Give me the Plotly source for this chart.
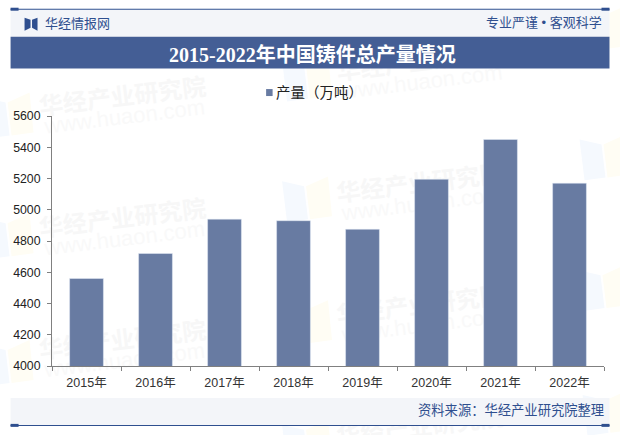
import plotly.graph_objects as go

years = ["2015年", "2016年", "2017年", "2018年", "2019年", "2020年", "2021年", "2022年"]
output = [4560, 4720, 4940, 4930, 4875, 5195, 5450, 5170]
y_ticks = [4000, 4200, 4400, 4600, 4800, 5000, 5200, 5400, 5600]

W, H = 620, 435
LEFT, RIGHT, TOP, BOTTOM = 51.5, 604.5, 115.5, 366
NAVY = "#2F4F8F"
BAND = "#445E95"
PALE = "#F3F5F9"
BAR = "#687BA2"
SANS = "Liberation Sans, Noto Sans CJK SC"

# Centres of the faint brand lettering, and top-left corners of the faint book marks
stamp_centres = [(122, 94), (122, 216), (122, 338), (420, 181), (420, 303), (420, 59)]
bottom_stamp = (420, 425)
book_corners = [(-17, 97), (-17, 218), (-17, 345), (282, 181), (282, 305), (282, 60),
                (282, 425), (580, 139), (579, 270), (580, 10), (583, 395)]


def px(x):
    return (x - LEFT) / (RIGHT - LEFT)


def py(y):
    return (BOTTOM - y) / (BOTTOM - TOP)


def rect(x0, y0, x1, y1, color):
    return dict(type="rect", xref="paper", yref="paper", x0=px(x0), x1=px(x1),
                y0=py(y0), y1=py(y1), fillcolor=color, line_width=0, layer="below")


def poly(points, color):
    d = "M " + " L ".join(f"{px(x):.5f} {py(y):.5f}" for x, y in points) + " Z"
    return dict(type="path", xref="paper", yref="paper", path=d, fillcolor=color,
                line_width=0, layer="below")


def stamp(cx, cy, text, size, color):
    box = rect(cx - 100, cy - 20, cx + 100, cy + 20, "rgba(0,0,0,0)")
    box["label"] = dict(text=text, textangle=-7, textposition="middle center",
                        font=dict(size=size, color=color, family=SANS))
    return box


shapes = []
for bx, by in book_corners:
    shapes.append(poly([(bx, by), (bx + 22, by + 5), (bx + 26, by + 38), (bx + 5, by + 41)], "#F5F9FE"))
    shapes.append(poly([(bx + 24, by + 5), (bx + 46, by - 5), (bx + 50, by + 35), (bx + 28, by + 38)], "#FFFDF4"))

for cx, cy in stamp_centres:
    shapes.append(stamp(cx, cy, "<b>华经产业研究院</b>", 24, "#F7F7F7"))
    shapes.append(stamp(cx + 2, cy + 20, "www.huaon.com", 22, "#F9F9F9"))
shapes.append(stamp(*bottom_stamp, "<b>华经产业研究院</b>", 24, "#F7F7F7"))

shapes += [
    rect(10, 9, 610, 36, PALE),
    rect(10, 36, 610, 68, BAND),
    rect(10, 398, 610, 425, PALE),
    rect(10, 8, 610, 9, NAVY),
    rect(10, 425, 610, 426, NAVY),
    rect(10, 7, 18, 10, NAVY),
    rect(602, 7, 610, 10, NAVY),
    rect(10, 424, 18, 427, NAVY),
    rect(602, 424, 610, 427, NAVY),
    # book-shaped logo
    poly([(24, 17), (30, 19), (30, 27), (24, 30)], NAVY),
    poly([(37, 17), (31.5, 19), (31.5, 27), (37, 30)], NAVY),
    # legend swatch
    rect(266, 88.5, 272.5, 95.5, BAR),
]


def note(x, y, text, size, color, anchor="left", family=SANS):
    return dict(xref="paper", yref="paper", x=px(x), y=py(y), text=text, showarrow=False,
                xanchor=anchor, yanchor="middle", borderpad=0, borderwidth=0,
                font=dict(size=size, color=color, family=family))


annotations = [
    note(44, 23, "华经情报网", 13, NAVY),
    note(602, 22, "专业严谨 • 客观科学", 13, NAVY, "right"),
    note(312, 54, "<b>2015-2022年中国铸件总产量情况</b>", 20, "#FFFFFF", "center",
         family="Liberation Serif, Noto Sans CJK SC"),
    note(276, 92, "产量（万吨）", 14.5, "#222222"),
    note(604, 411, "资料来源：华经产业研究院整理", 13.3, NAVY, "right"),
]

fig = go.Figure(go.Bar(x=years, y=output, marker_color=BAR, width=0.49, showlegend=False))

fig.update_layout(
    width=W, height=H, autosize=False,
    margin=dict(l=LEFT, r=W - RIGHT, t=TOP, b=H - BOTTOM, pad=0),
    paper_bgcolor="#FFFFFF",
    plot_bgcolor="rgba(0,0,0,0)",
    shapes=shapes,
    annotations=annotations,
    showlegend=False,
    xaxis=dict(type="category", range=[-0.5, 7.5],
               showgrid=False, showline=True, linecolor="#808080", linewidth=1,
               ticks="outside", ticklen=4, tickcolor="#808080", tickson="boundaries",
               ticklabelstandoff=5,
               tickfont=dict(size=12.5, color="#333333", family=SANS)),
    yaxis=dict(range=[4000, 5600], tickvals=y_ticks,
               showgrid=False, zeroline=False, showline=True, linecolor="#808080", linewidth=1,
               ticks="outside", ticklen=4, tickcolor="#808080", ticklabelstandoff=4,
               tickfont=dict(size=12.3, color="#222222", family=SANS)),
)

fig.write_html("out.html", config={"displayModeBar": False})
